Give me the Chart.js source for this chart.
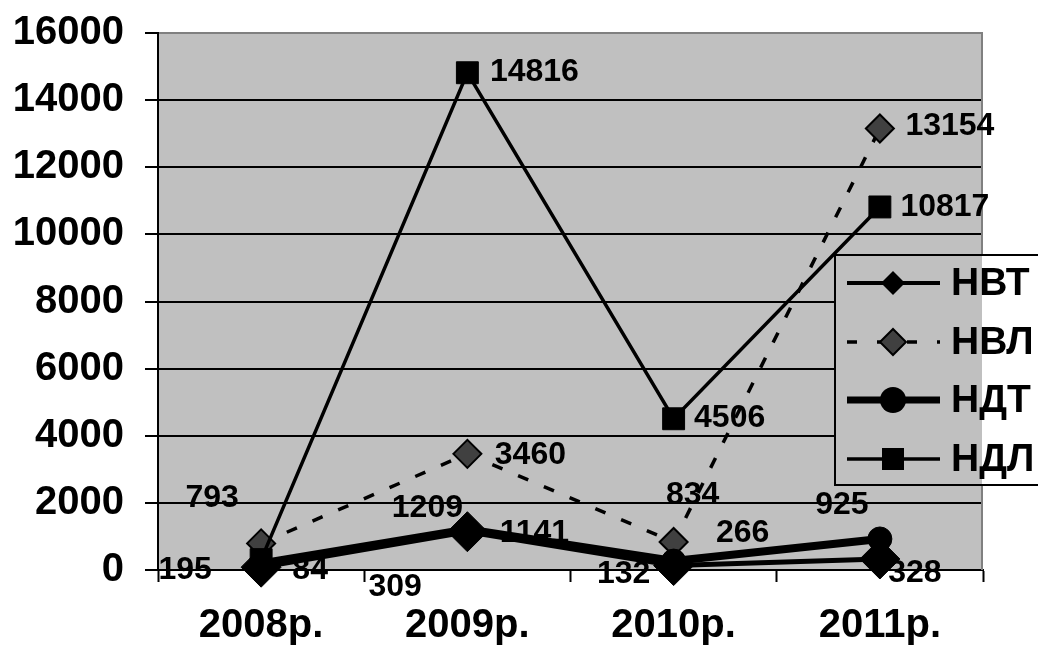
<!DOCTYPE html>
<html><head><meta charset="utf-8">
<script src="https://cdn.jsdelivr.net/npm/chart.js@4"></script>
<style>html,body{margin:0;padding:0;background:#fff;overflow:hidden;} #wrap{width:1038px;height:652px;}</style>
</head><body><div id="wrap"><canvas id="c" width="1038" height="652"></canvas></div>
<script>
// ---- data ----
const categories = ['2008р.', '2009р.', '2010р.', '2011р.'];
const seriesNames = ['НВТ', 'НВЛ', 'НДТ', 'НДЛ'];
const nvt = [84, 1141, 132, 328];
const nvl = [793, 3460, 834, 13154];
const ndt = [195, 1209, 266, 925];
const ndl = [309, 14816, 4506, 10817];
const yMin = 0, yMax = 16000, yStep = 2000;

// ---- label placement (pixel offsets of label centre from its point) ----
const labelOffsets = [
  [[49, 3], [67, 1], [-50, 9], [35, 14]],       // НВТ
  [[-49, -45], [63, 1], [19, -47], [70, -2]],   // НВЛ
  [[-76, 7], [-40, -21], [69, -28], [-38, -34]],// НДТ
  [[134, 28], [67, -1], [56, -1], [65, 0]]      // НДЛ
];

const FONT = '"Liberation Sans", Arial, Helvetica, sans-serif';
const PLOT_BG = '#C0C0C0';

const bgPlugin = {
  id: 'bg',
  beforeDraw(chart) {
    const {ctx, chartArea: a} = chart;
    ctx.save();
    ctx.fillStyle = '#fff';
    ctx.fillRect(0, 0, chart.width, chart.height);
    ctx.fillStyle = PLOT_BG;
    ctx.fillRect(a.left, a.top, a.right - a.left, a.bottom - a.top);
    ctx.restore();
  },
  beforeDatasetsDraw(chart) {
    const {ctx, chartArea: a} = chart;
    ctx.save();
    ctx.strokeStyle = '#808080';
    ctx.lineWidth = 2;
    ctx.beginPath();
    ctx.moveTo(a.right - 1, a.top);
    ctx.lineTo(a.right - 1, a.bottom);
    ctx.stroke();
    ctx.restore();
  }
};

const labelPlugin = {
  id: 'vals',
  afterDatasetsDraw(chart) {
    const ctx = chart.ctx;
    ctx.save();
    ctx.font = 'bold 32px ' + FONT;
    ctx.fillStyle = '#000';
    ctx.textAlign = 'center';
    ctx.textBaseline = 'middle';
    chart.data.datasets.forEach((ds, i) => {
      const meta = chart.getDatasetMeta(i);
      meta.data.forEach((pt, j) => {
        const off = labelOffsets[i][j];
        ctx.fillText(String(ds.data[j]), pt.x + off[0], pt.y + off[1]);
      });
    });
    ctx.restore();
  }
};

function marker(ctx, style, x, y, r, fill, stroke, bw) {
  ctx.beginPath();
  if (style === 'rectRot') {
    ctx.moveTo(x - r, y); ctx.lineTo(x, y - r); ctx.lineTo(x + r, y); ctx.lineTo(x, y + r); ctx.closePath();
  } else if (style === 'circle') {
    ctx.arc(x, y, r, 0, Math.PI * 2);
  } else {
    ctx.rect(x - r, y - r, 2 * r, 2 * r);
  }
  ctx.fillStyle = fill; ctx.fill();
  if (bw) { ctx.lineWidth = bw; ctx.strokeStyle = stroke; ctx.setLineDash([]); ctx.stroke(); }
}

const legendPlugin = {
  id: 'customLegend',
  afterDraw(chart) {
    const {ctx, chartArea: a} = chart;
    const L = 835, T = 255, B = 485, R = 1040;
    ctx.save();
    ctx.fillStyle = PLOT_BG;
    ctx.fillRect(L, T, a.right - 1 - L, B - T);
    ctx.fillStyle = '#fff';
    ctx.fillRect(a.right - 1, T, R - a.right + 1, B - T);
    ctx.strokeStyle = '#000';
    ctx.lineWidth = 2;
    ctx.strokeRect(L, T, R - L, B - T);
    const ys = [283, 342, 400, 459];
    const items = [
      {w: 4, dash: [], st: 'rectRot', r: 12, fill: '#000', bw: 0},
      {w: 3.5, dash: [10, 20], st: 'rectRot', r: 13, fill: '#404040', bw: 2},
      {w: 7, dash: [], st: 'circle', r: 13, fill: '#000', bw: 0},
      {w: 3.5, dash: [], st: 'rect', r: 11, fill: '#000', bw: 0}
    ];
    items.forEach((it, i) => {
      const y = ys[i];
      ctx.strokeStyle = '#000';
      ctx.lineWidth = it.w;
      ctx.setLineDash(it.dash);
      ctx.beginPath(); ctx.moveTo(847, y); ctx.lineTo(940, y); ctx.stroke();
      ctx.setLineDash([]);
      marker(ctx, it.st, 893, y, it.r, it.fill, '#000', it.bw);
      ctx.fillStyle = '#000';
      ctx.font = 'bold 39px ' + FONT;
      ctx.textAlign = 'left';
      ctx.textBaseline = 'middle';
      ctx.fillText(seriesNames[i], 951, y + 1);
    });
    ctx.restore();
  }
};

const tickFont = {family: FONT, size: 40, weight: 'bold'};

new Chart(document.getElementById('c'), {
  type: 'line',
  data: {
    labels: categories,
    datasets: [
      {label: seriesNames[0], data: nvt, borderColor: '#000', borderWidth: 5, pointStyle: 'rectRot', pointRadius: 20,
       pointBackgroundColor: '#000', pointBorderColor: '#000', pointBorderWidth: 1, order: 3, clip: false, tension: 0},
      {label: seriesNames[1], data: nvl, borderColor: '#000', borderWidth: 3.5, borderDash: [11, 17], pointStyle: 'rectRot', pointRadius: 14,
       pointBackgroundColor: '#404040', pointBorderColor: '#000', pointBorderWidth: 2, order: 2, clip: false, tension: 0},
      {label: seriesNames[2], data: ndt, borderColor: '#000', borderWidth: 8, pointStyle: 'circle', pointRadius: 12,
       pointBackgroundColor: '#000', pointBorderColor: '#000', pointBorderWidth: 1, order: 1, clip: false, tension: 0},
      {label: seriesNames[3], data: ndl, borderColor: '#000', borderWidth: 3.5, pointStyle: 'rect', pointRadius: 15.5,
       pointBackgroundColor: '#000', pointBorderColor: '#000', pointBorderWidth: 1, order: 0, clip: false, tension: 0}
    ]
  },
  options: {
    responsive: false, animation: false, devicePixelRatio: 1,
    layout: {padding: {top: 33, right: 55, left: 0, bottom: 0}},
    plugins: {legend: {display: false}, tooltip: {enabled: false}},
    scales: {
      x: {
        offset: true,
        grid: {display: true, drawOnChartArea: false, tickLength: 12, tickColor: '#000', tickWidth: 2, offset: true},
        border: {color: '#000', width: 2},
        ticks: {color: '#000', font: tickFont, padding: 20, maxRotation: 0, autoSkip: false},
        afterFit(s) { s.height = 82; s.paddingLeft = 0; s.paddingRight = 0; }
      },
      y: {
        min: yMin, max: yMax,
        grid: {color: c => (c.tick && c.tick.value === yMax) ? '#808080' : '#000', lineWidth: 2, tickLength: 13, tickColor: '#000', tickWidth: 2},
        border: {color: '#000', width: 2},
        ticks: {stepSize: yStep, color: '#000', font: tickFont, padding: 21, autoSkip: false, callback: v => String(v)},
        afterFit(s) { s.width = 158; s.paddingTop = 0; s.paddingBottom = 0; }
      }
    }
  },
  plugins: [bgPlugin, labelPlugin, legendPlugin]
});
</script>
</body></html>
